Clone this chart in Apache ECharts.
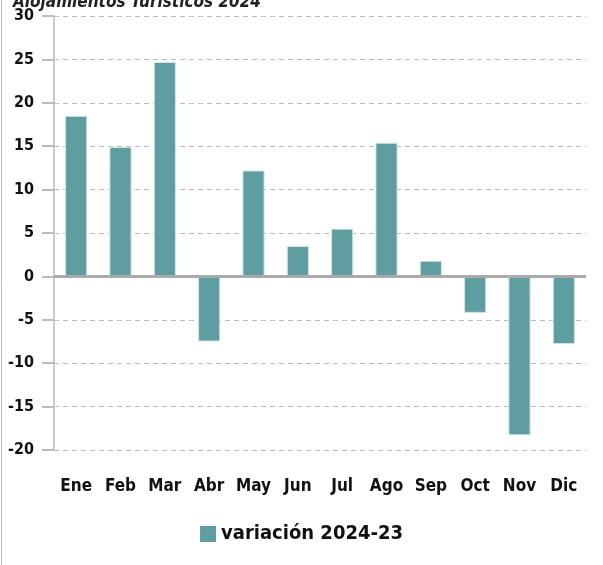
<!DOCTYPE html>
<html>
<head>
<meta charset="utf-8">
<script src="https://cdn.jsdelivr.net/npm/echarts@6/dist/echarts.min.js"></script>
<style>
  html, body { margin: 0; padding: 0; background: #fff; }
  #chart { width: 603px; height: 565px; }
</style>
</head>
<body>
<div id="chart"></div>
<script>
const months = ["Ene", "Feb", "Mar", "Abr", "May", "Jun", "Jul", "Ago", "Sep", "Oct", "Nov", "Dic"];
const variacion = [18.5, 14.9, 24.7, -7.5, 12.2, 3.5, 5.5, 15.4, 1.8, -4.2, -18.3, -7.8];
const seriesName = "variación 2024-23";
const titleText = "Alojamientos Turísticos 2024";

const font = "'DejaVu Sans Condensed', 'Liberation Sans Narrow', sans-serif";

const chart = echarts.init(document.getElementById("chart"));

const option = {
	animation: false,
	title: {
		text: titleText,
		left: 8,
		top: -11,
		textStyle: {
			fontFamily: font,
			fontStyle: "italic",
			fontWeight: "bold",
			fontSize: 17,
			color: "#222"
		}
	},
	grid: {
		left: 54,
		right: 17,
		top: 16,
		bottom: 115
	},
	legend: {
		bottom: 16,
		left: "center",
		icon: "rect",
		itemWidth: 16,
		itemHeight: 16,
		itemGap: 8,
		itemStyle: { borderWidth: 0 },
		textStyle: {
			fontFamily: font,
			fontWeight: "bold",
			fontSize: 20,
			color: "#111"
		},
		data: [seriesName]
	},
	graphic: [{
		type: "line",
		shape: { x1: 1.5, y1: 0, x2: 1.5, y2: 565 },
		style: { stroke: "#bbb", lineWidth: 1 }
	}],
	xAxis: {
		type: "category",
		data: months,
		axisLine: { show: false },
		axisTick: { show: false },
		axisLabel: {
			interval: 0,
			margin: 28,
			fontFamily: font,
			fontWeight: "bold",
			fontSize: 17,
			color: "#111"
		}
	},
	yAxis: {
		type: "value",
		min: -20,
		max: 30,
		interval: 5,
		axisLine: {
			show: true,
			lineStyle: { color: "#ccc", width: 2 }
		},
		axisTick: {
			show: true,
			length: 12,
			lineStyle: { color: "#bbb", width: 2 }
		},
		axisLabel: {
			margin: 20,
			fontFamily: font,
			fontWeight: "bold",
			fontSize: 16,
			color: "#111"
		},
		splitLine: {
			lineStyle: { color: "#bbb", type: [5, 4], width: 1 }
		}
	},
	series: [{
		name: seriesName,
		type: "bar",
		data: variacion,
		barWidth: "50%",
		itemStyle: {
			color: "#5f9ea0",
			borderColor: "#d2e6e6",
			borderWidth: 1
		},
		markLine: {
			silent: true,
			symbol: "none",
			label: { show: false },
			lineStyle: { color: "#aaa", type: "solid", width: 3 },
			data: [{ yAxis: 0 }]
		}
	}]
};

option && chart.setOption(option);
</script>
</body>
</html>
